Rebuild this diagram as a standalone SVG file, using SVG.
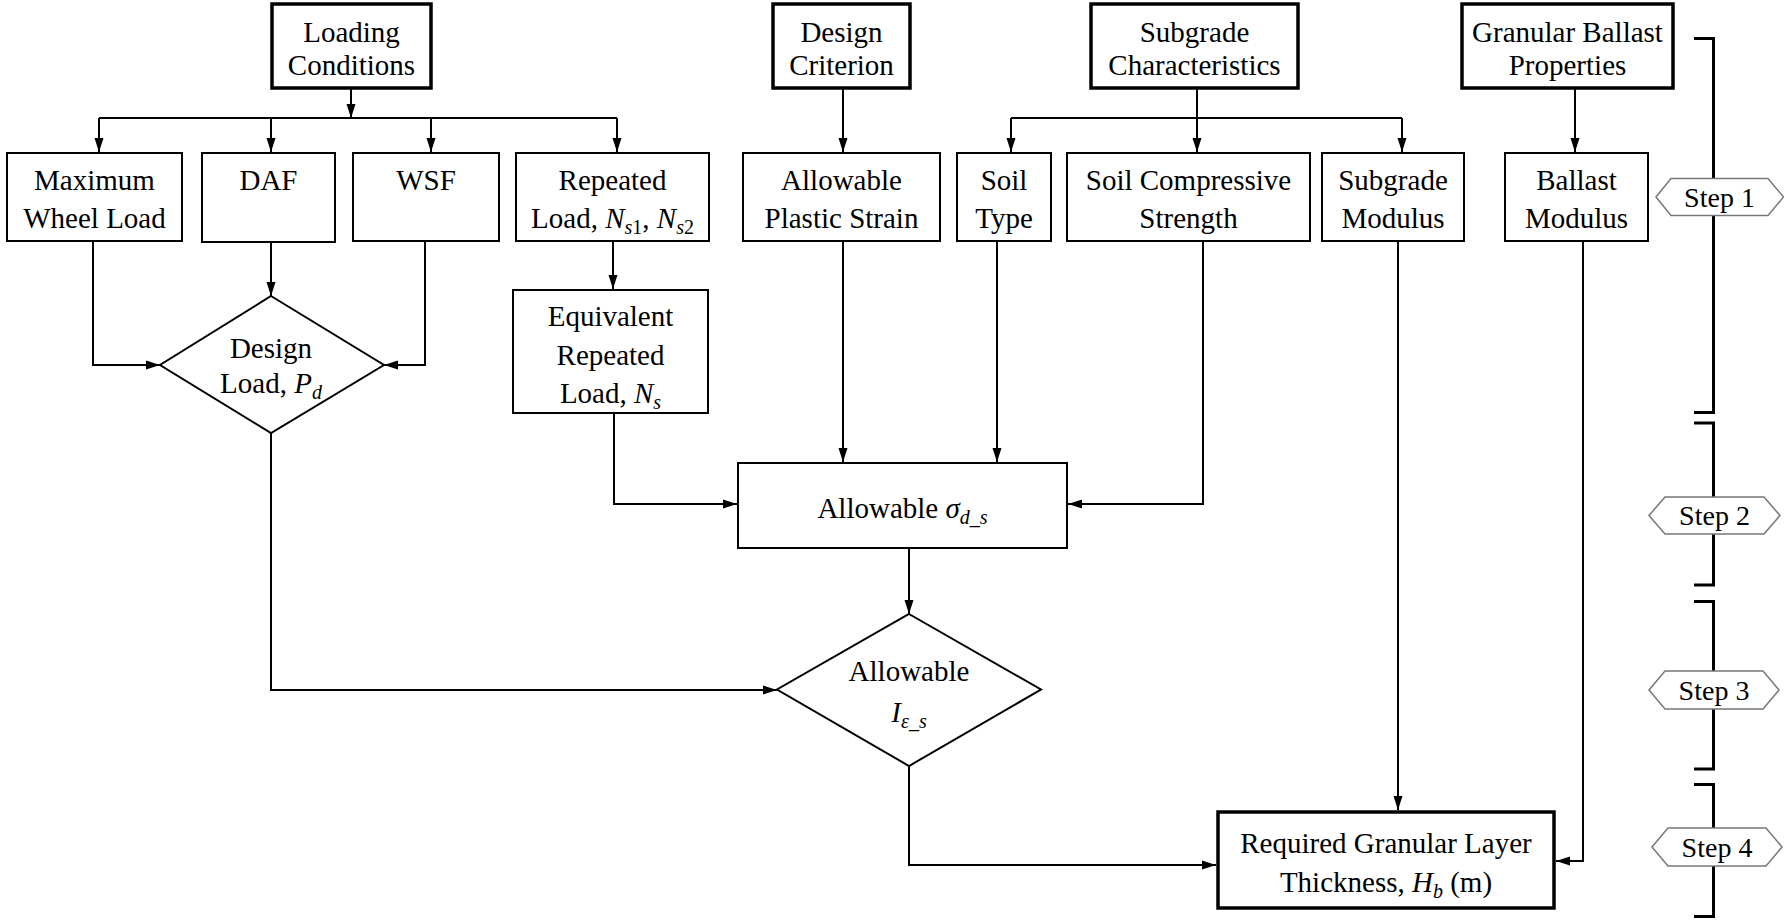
<svg xmlns="http://www.w3.org/2000/svg" width="1784" height="922" viewBox="0 0 1784 922" font-family="'Liberation Serif', 'Times New Roman', 'DejaVu Serif', serif">
<style>
text{font-family:'Liberation Serif','Times New Roman','DejaVu Serif',serif;font-size:29px;fill:#000;text-anchor:middle}
.b{fill:#fff;stroke:#000;stroke-width:2}
.bt{fill:#fff;stroke:#000;stroke-width:3.5}
.c{fill:none;stroke:#000;stroke-width:2}
.br{fill:none;stroke:#000;stroke-width:3}
.hx{fill:#fff;stroke:#777;stroke-width:1.5}
.i{font-style:italic}
.s{font-size:20px;font-style:italic}
.su{font-size:20px}
.st{font-size:28px}
</style>
<defs>
<marker id="a" viewBox="0 0 14 10" refX="14" refY="5" markerWidth="14" markerHeight="10" markerUnits="userSpaceOnUse" orient="auto">
<path d="M0,0.5 L14,5 L0,9.5 z" fill="#000"/>
</marker>
</defs>
<rect width="1784" height="922" fill="#fff"/>

<g id="connectors" class="c">
<path d="M351,88 V118" marker-end="url(#a)"/>
<path d="M99,118 H617"/>
<path d="M99,118 V152" marker-end="url(#a)"/>
<path d="M271,118 V152" marker-end="url(#a)"/>
<path d="M431,118 V152" marker-end="url(#a)"/>
<path d="M617,118 V152" marker-end="url(#a)"/>
<path d="M843,88 V152" marker-end="url(#a)"/>
<path d="M1197,88 V152" marker-end="url(#a)"/>
<path d="M1011,118 H1402"/>
<path d="M1011,118 V152" marker-end="url(#a)"/>
<path d="M1402,118 V152" marker-end="url(#a)"/>
<path d="M1575,88 V152" marker-end="url(#a)"/>
<path d="M93,241 V365 H160" marker-end="url(#a)"/>
<path d="M271,242 V296" marker-end="url(#a)"/>
<path d="M425,241 V365 H384" marker-end="url(#a)"/>
<path d="M613,241 V289" marker-end="url(#a)"/>
<path d="M614,413 V504 H737" marker-end="url(#a)"/>
<path d="M843,241 V462" marker-end="url(#a)"/>
<path d="M997,241 V462" marker-end="url(#a)"/>
<path d="M1203,241 V504 H1068" marker-end="url(#a)"/>
<path d="M909,549 V614" marker-end="url(#a)"/>
<path d="M271,433 V690 H777" marker-end="url(#a)"/>
<path d="M909,766 V865 H1216" marker-end="url(#a)"/>
<path d="M1398,241 V810" marker-end="url(#a)"/>
<path d="M1583,241 V861 H1556" marker-end="url(#a)"/>
</g>

<g id="loading-conditions"><rect class="bt" x="272" y="4" width="159" height="84"/><text x="351.5" y="41.5">Loading</text><text x="351.5" y="74.5">Conditions</text></g>
<g id="design-criterion"><rect class="bt" x="773" y="4" width="137" height="84"/><text x="841.5" y="41.5">Design</text><text x="841.5" y="74.5">Criterion</text></g>
<g id="subgrade-characteristics"><rect class="bt" x="1091" y="4" width="207" height="84"/><text x="1194.5" y="41.5">Subgrade</text><text x="1194.5" y="74.5">Characteristics</text></g>
<g id="granular-ballast-properties"><rect class="bt" x="1462" y="4" width="211" height="84"/><text x="1567.5" y="41.5">Granular Ballast</text><text x="1567.5" y="74.5">Properties</text></g>

<g id="maximum-wheel-load"><rect class="b" x="7" y="153" width="175" height="88"/><text x="94.5" y="189.5">Maximum</text><text x="94.5" y="227.5">Wheel Load</text></g>
<g id="daf"><rect class="b" x="202" y="153" width="133" height="89"/><text x="268.5" y="189.5">DAF</text></g>
<g id="wsf"><rect class="b" x="353" y="153" width="146" height="88"/><text x="426" y="189.5">WSF</text></g>
<g id="repeated-load"><rect class="b" x="516" y="153" width="193" height="88"/><text x="612.5" y="189.5">Repeated</text><text x="612.5" y="227.5">Load, <tspan class="i">N</tspan><tspan class="s" dy="6">s</tspan><tspan class="su">1</tspan><tspan dy="-6">, </tspan><tspan class="i">N</tspan><tspan class="s" dy="6">s</tspan><tspan class="su">2</tspan></text></g>
<g id="allowable-plastic-strain"><rect class="b" x="743" y="153" width="197" height="88"/><text x="841.5" y="189.5">Allowable</text><text x="841.5" y="227.5">Plastic Strain</text></g>
<g id="soil-type"><rect class="b" x="957" y="153" width="94" height="88"/><text x="1004" y="189.5">Soil</text><text x="1004" y="227.5">Type</text></g>
<g id="soil-compressive-strength"><rect class="b" x="1067" y="153" width="243" height="88"/><text x="1188.5" y="189.5">Soil Compressive</text><text x="1188.5" y="227.5">Strength</text></g>
<g id="subgrade-modulus"><rect class="b" x="1322" y="153" width="142" height="88"/><text x="1393" y="189.5">Subgrade</text><text x="1393" y="227.5">Modulus</text></g>
<g id="ballast-modulus"><rect class="b" x="1505" y="153" width="143" height="88"/><text x="1576.5" y="189.5">Ballast</text><text x="1576.5" y="227.5">Modulus</text></g>

<g id="design-load"><polygon class="b" points="271,296 384,365 271,433 160,365"/><text x="271" y="357.5">Design</text><text x="271" y="392.5">Load, <tspan class="i">P</tspan><tspan class="s" dy="6">d</tspan></text></g>
<g id="equivalent-repeated-load"><rect class="b" x="513" y="290" width="195" height="123"/><text x="610.5" y="326">Equivalent</text><text x="610.5" y="364.5">Repeated</text><text x="610.5" y="402.5">Load, <tspan class="i">N</tspan><tspan class="s" dy="6">s</tspan></text></g>
<g id="allowable-sigma"><rect class="b" x="738" y="463" width="329" height="85"/><text x="902.5" y="517.5">Allowable <tspan class="i">σ</tspan><tspan class="s" dy="6">d_s</tspan></text></g>
<g id="allowable-i"><polygon class="b" points="909,614 1041,689.5 909,766 777,689.5"/><text x="909" y="681">Allowable</text><text x="909" y="722"><tspan class="i">I</tspan><tspan class="s" dy="6">ε_s</tspan></text></g>
<g id="required-thickness"><rect class="bt" x="1218" y="812" width="336" height="96"/><text x="1386" y="852.5">Required Granular Layer</text><text x="1386" y="891.5">Thickness, <tspan class="i">H</tspan><tspan class="s" dy="6">b</tspan><tspan dy="-6"> (m)</tspan></text></g>

<g id="steps">
<path class="br" d="M1694,38.5 H1713.5 V412.5 H1694"/>
<path class="br" d="M1694,423 H1713.5 V585 H1694"/>
<path class="br" d="M1694,601.5 H1713.5 V769 H1694"/>
<path class="br" d="M1694,784.5 H1713.5 V916.5 H1694"/>
<g id="step-1"><polygon class="hx" points="1656,197 1671,178.5 1768,178.5 1783.5,197 1768,215.5 1671,215.5"/><text class="st" x="1719.5" y="206.5">Step 1</text></g>
<g id="step-2"><polygon class="hx" points="1649,515.5 1665,497 1764,497 1780,515.5 1764,534 1665,534"/><text class="st" x="1714.5" y="525">Step 2</text></g>
<g id="step-3"><polygon class="hx" points="1649,690 1665,671 1763,671 1779,690 1763,709 1665,709"/><text class="st" x="1714" y="699.5">Step 3</text></g>
<g id="step-4"><polygon class="hx" points="1652,847 1668,828 1766,828 1782,847 1766,866 1668,866"/><text class="st" x="1717" y="856.5">Step 4</text></g>
</g>
</svg>
